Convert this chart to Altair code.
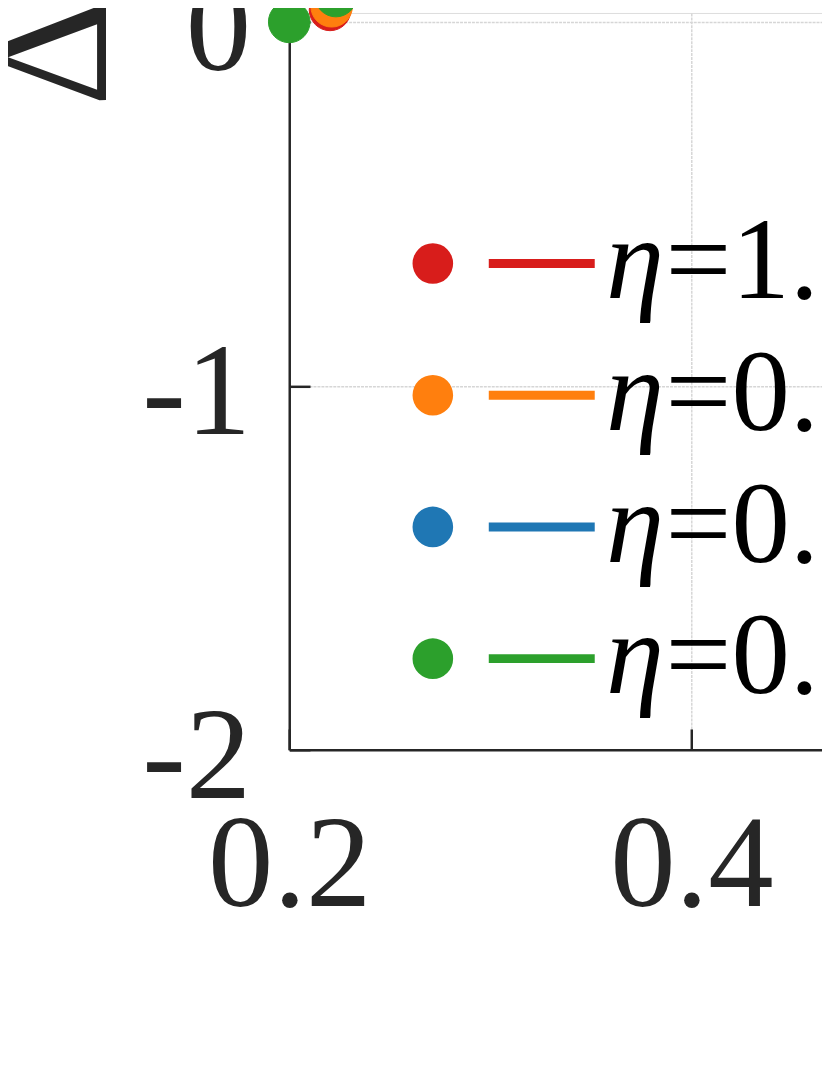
import altair as alt
import pandas as pd

# Series (legend order) and colours
etas = ["1.0", "0.5", "0.2", "0.1"]
colors = ["#d81d1b", "#ff7f0e", "#1f77b4", "#2ca02c"]

# Visible data points (series, x, y)
pt_series = ["1.0", "0.5", "0.1", "0.1"]
pt_x = [0.2203, 0.2211, 0.2000, 0.2232]
pt_y = [0.033, 0.043, 0.000, 0.071]

x_ticks = [0.2, 0.4]
y_ticks = [0, -1, -2]

df = pd.DataFrame({"eta": pt_series, "x": pt_x, "y": pt_y})
eq_labels = ["=" + e for e in etas]

W, H = 538, 744
x_dom = [0.2, 0.4650]
y_dom = [-2, 0.0245]
FONT = "Liberation Serif"
AX = "#262626"

xscale = alt.Scale(domain=x_dom, nice=False, zero=False)
yscale = alt.Scale(domain=y_dom, nice=False, zero=False)

points = alt.Chart(df).transform_calculate(
    eq="'=' + datum.eta"
).mark_point(filled=True, size=1764, strokeWidth=1, opacity=1).encode(
    x=alt.X("x:Q", scale=xscale, axis=alt.Axis(
        values=x_ticks, labelExpr="format(datum.value, '.1f')", title=None,
        ticks=False, tickSize=0, labelPadding=53, labelFont=FONT, labelFontSize=132,
        labelColor=AX, domainColor=AX, domainWidth=2.5, grid=True,
        gridColor="#d6d6d6", gridWidth=1.5, gridDash=[3, 1], labelFlush=False)),
    y=alt.Y("y:Q", scale=yscale, axis=alt.Axis(
        values=y_ticks, labelExpr="'' + datum.value", title="Δ",
        titleFont=FONT, titleFontSize=168, titleFontWeight="normal", titleColor=AX,
        titleAngle=270, titleAlign="center", titleBaseline="alphabetic",
        titleX=-186, titleY=40,
        ticks=False, tickSize=0, labelPadding=39, labelOffset=8, labelFont=FONT,
        labelFontSize=132, labelColor=AX, domainColor=AX, domainWidth=2.5,
        grid=True, gridColor="#d6d6d6", gridWidth=1.5, gridDash=[3, 1],
        labelFlush=False)),
    fill=alt.Fill("eta:N", scale=alt.Scale(domain=etas, range=colors),
                  legend=alt.Legend(orient="none", legendX=86, legendY=194, title=None,
                                    symbolType="circle", symbolSize=1681,
                                    symbolStrokeWidth=0, symbolOpacity=1,
                                    labelExpr="'η'", labelFont=FONT,
                                    labelFontStyle="italic", labelFontSize=118,
                                    labelColor="#000000", labelOffset=116,
                                    labelLimit=0, rowPadding=15, padding=0)),
    stroke=alt.Stroke("eq:N", scale=alt.Scale(domain=eq_labels, range=colors),
                      legend=alt.Legend(orient="none", legendX=196, legendY=194, title=None,
                                        symbolType="stroke", symbolSize=11449,
                                        symbolStrokeWidth=9, symbolOpacity=1,
                                        labelFont=FONT, labelFontSize=118,
                                        labelColor="#000000", labelOffset=66,
                                        labelLimit=0, rowPadding=15, padding=0)),
)

ticks = alt.Chart(df).mark_point(opacity=0).encode(
    x=alt.X("x:Q", scale=xscale, axis=alt.Axis(
        orient="top", offset=-H, values=x_ticks, labels=False, domain=False,
        grid=False, ticks=True, tickSize=21, tickWidth=2.5, tickColor=AX, title=None)),
    y=alt.Y("y:Q", scale=yscale, axis=alt.Axis(
        orient="right", offset=-W, values=y_ticks, labels=False, domain=False,
        grid=False, ticks=True, tickSize=21, tickWidth=2.5, tickColor=AX, title=None)),
)

chart = alt.layer(points, ticks).resolve_scale(x="independent", y="independent").properties(
    width=W, height=H,
    autosize=alt.AutoSizeParams(type="none"),
    padding={"left": 284, "top": 0, "right": 0, "bottom": 280},
).configure_view(stroke=None).configure(background="white")

chart.save("out.html", embed_options={"renderer": "svg", "actions": False})
